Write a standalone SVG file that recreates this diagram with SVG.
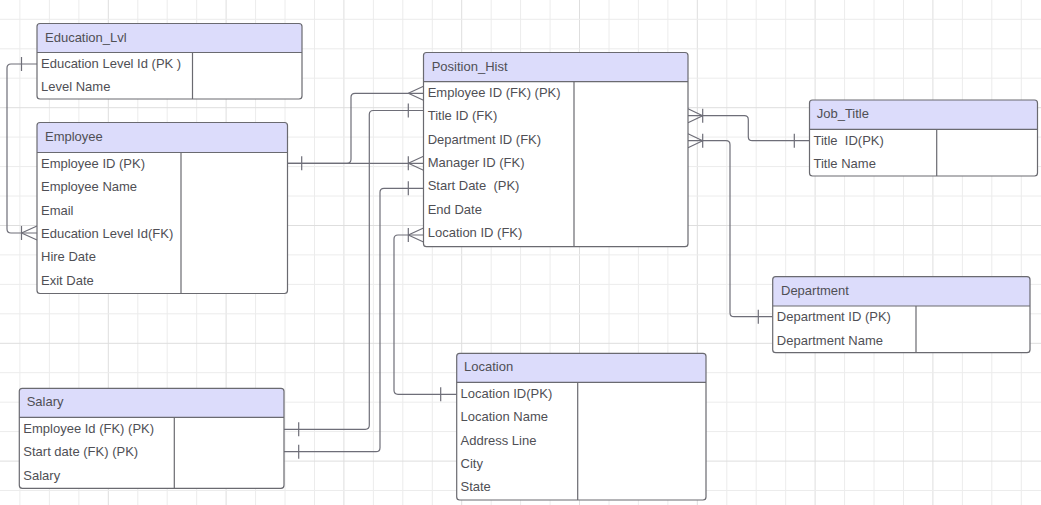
<svg xmlns="http://www.w3.org/2000/svg" width="1041" height="505" viewBox="0 0 1041 505">
<style>
.g{stroke:#ececec;stroke-width:1}
.gm{stroke:#dedede;stroke-width:1}
.box{fill:#ffffff;stroke:none}
.hd{fill:#dcdcfb;stroke:none}
.ol{fill:none;stroke:#6a6a70;stroke-width:1.2}
.sep{stroke:#6a6a70;stroke-width:1.2}
.t{font-family:"Liberation Sans",Arial,sans-serif;font-size:13px;fill:#4f4f55;white-space:pre}
.c{fill:none;stroke:#6e6e78;stroke-width:1.2}
</style>
<rect x="0" y="0" width="1041" height="505" fill="#ffffff"/>
<g id="grid">
<line class="g" x1="19.9" y1="0" x2="19.9" y2="505"/><line class="g" x1="49.4" y1="0" x2="49.4" y2="505"/><line class="g" x1="78.9" y1="0" x2="78.9" y2="505"/><line class="gm" x1="108.3" y1="0" x2="108.3" y2="505"/>
<line class="g" x1="137.8" y1="0" x2="137.8" y2="505"/><line class="g" x1="167.2" y1="0" x2="167.2" y2="505"/><line class="g" x1="196.7" y1="0" x2="196.7" y2="505"/><line class="gm" x1="226.1" y1="0" x2="226.1" y2="505"/>
<line class="g" x1="255.6" y1="0" x2="255.6" y2="505"/><line class="g" x1="285" y1="0" x2="285" y2="505"/><line class="g" x1="314.5" y1="0" x2="314.5" y2="505"/><line class="gm" x1="343.9" y1="0" x2="343.9" y2="505"/>
<line class="g" x1="373.4" y1="0" x2="373.4" y2="505"/><line class="g" x1="402.8" y1="0" x2="402.8" y2="505"/><line class="g" x1="432.3" y1="0" x2="432.3" y2="505"/><line class="gm" x1="461.7" y1="0" x2="461.7" y2="505"/>
<line class="g" x1="491.2" y1="0" x2="491.2" y2="505"/><line class="g" x1="520.6" y1="0" x2="520.6" y2="505"/><line class="g" x1="550.1" y1="0" x2="550.1" y2="505"/><line class="gm" x1="579.5" y1="0" x2="579.5" y2="505"/>
<line class="g" x1="609" y1="0" x2="609" y2="505"/><line class="g" x1="638.4" y1="0" x2="638.4" y2="505"/><line class="g" x1="667.9" y1="0" x2="667.9" y2="505"/><line class="gm" x1="697.3" y1="0" x2="697.3" y2="505"/>
<line class="g" x1="726.8" y1="0" x2="726.8" y2="505"/><line class="g" x1="756.2" y1="0" x2="756.2" y2="505"/><line class="g" x1="785.7" y1="0" x2="785.7" y2="505"/><line class="gm" x1="815.1" y1="0" x2="815.1" y2="505"/>
<line class="g" x1="844.6" y1="0" x2="844.6" y2="505"/><line class="g" x1="874" y1="0" x2="874" y2="505"/><line class="g" x1="903.5" y1="0" x2="903.5" y2="505"/><line class="gm" x1="932.9" y1="0" x2="932.9" y2="505"/>
<line class="g" x1="962.4" y1="0" x2="962.4" y2="505"/><line class="g" x1="991.8" y1="0" x2="991.8" y2="505"/><line class="g" x1="1021.3" y1="0" x2="1021.3" y2="505"/>
<line class="g" x1="0" y1="19.3" x2="1041" y2="19.3"/><line class="g" x1="0" y1="48.8" x2="1041" y2="48.8"/><line class="g" x1="0" y1="78.2" x2="1041" y2="78.2"/><line class="gm" x1="0" y1="107.7" x2="1041" y2="107.7"/>
<line class="g" x1="0" y1="137.1" x2="1041" y2="137.1"/><line class="g" x1="0" y1="166.6" x2="1041" y2="166.6"/><line class="g" x1="0" y1="196" x2="1041" y2="196"/><line class="gm" x1="0" y1="225.5" x2="1041" y2="225.5"/>
<line class="g" x1="0" y1="254.9" x2="1041" y2="254.9"/><line class="g" x1="0" y1="284.4" x2="1041" y2="284.4"/><line class="g" x1="0" y1="313.8" x2="1041" y2="313.8"/><line class="gm" x1="0" y1="343.3" x2="1041" y2="343.3"/>
<line class="g" x1="0" y1="372.7" x2="1041" y2="372.7"/><line class="g" x1="0" y1="402.2" x2="1041" y2="402.2"/><line class="g" x1="0" y1="431.6" x2="1041" y2="431.6"/><line class="gm" x1="0" y1="461.1" x2="1041" y2="461.1"/>
<line class="g" x1="0" y1="490.5" x2="1041" y2="490.5"/>
</g>
<g id="connectors">
<path class="c" d="M37,64 H11 Q7,64 7,68 V229 Q7,233 11,233 H37"/>
<path class="c" d="M21.5,57 V71 M21.5,226 V240 M21.5,233 L37,226 M21.5,233 L37,240"/>
<path class="c" d="M287.5,163.3 H347 Q351,163.3 351,159.3 V97.3 Q351,93.3 355,93.3 H423.5"/>
<path class="c" d="M408.3,93.3 L423.5,86.3 M408.3,93.3 L423.5,100.3"/>
<path class="c" d="M287.5,163.3 H423.5"/>
<path class="c" d="M301.7,156.3 V170.3 M408.3,156.3 V170.3 M408.3,163.3 L423.5,156.3 M408.3,163.3 L423.5,170.3"/>
<path class="c" d="M284,429.3 H365.3 Q369.3,429.3 369.3,425.3 V114.5 Q369.3,110.5 373.3,110.5 H423.5"/>
<path class="c" d="M298.7,422.3 V436.3 M408.3,103.5 V117.5"/>
<path class="c" d="M284,451.7 H376 Q380,451.7 380,447.7 V192.3 Q380,188.3 384,188.3 H423.5"/>
<path class="c" d="M298.7,444.7 V458.7 M408.3,181.3 V195.3"/>
<path class="c" d="M423.5,235 H398 Q394,235 394,239 V390.3 Q394,394.3 398,394.3 H456.7"/>
<path class="c" d="M408.3,228 V242 M408.3,235 L423.5,228 M408.3,235 L423.5,242 M440.7,387.3 V401.3"/>
<path class="c" d="M688,115.7 H744.3 Q748.3,115.7 748.3,119.7 V136.7 Q748.3,140.7 752.3,140.7 H809.5"/>
<path class="c" d="M702.7,108.7 V122.7 M702.7,115.7 L688,108.7 M702.7,115.7 L688,122.7 M794.3,133.7 V147.7"/>
<path class="c" d="M688,140.7 H726 Q730,140.7 730,144.7 V312.7 Q730,316.7 734,316.7 H772.7"/>
<path class="c" d="M702.7,133.7 V147.7 M702.7,140.7 L688,133.7 M702.7,140.7 L688,147.7 M758.3,309.7 V323.7"/>
</g>
<g id="education_lvl">
<rect class="box" x="37" y="23.5" width="265" height="75.5" rx="3"/>
<path class="hd" d="M37,52.5 V26.5 Q37,23.5 40,23.5 H299 Q302,23.5 302,26.5 V52.5 Z"/>
<rect class="ol" x="37" y="23.5" width="265" height="75.5" rx="3"/>
<line class="sep" x1="37" y1="52.5" x2="302" y2="52.5"/>
<line class="sep" x1="192.5" y1="52.5" x2="192.5" y2="99"/>
<text class="t" x="45" y="41.5">Education_Lvl</text>
<text class="t" x="41" y="68">Education Level Id (PK )</text>
<text class="t" x="41" y="91">Level Name</text>
</g>
<g id="employee">
<rect class="box" x="37" y="122.5" width="250.5" height="171" rx="3"/>
<path class="hd" d="M37,152.5 V125.5 Q37,122.5 40,122.5 H284.5 Q287.5,122.5 287.5,125.5 V152.5 Z"/>
<rect class="ol" x="37" y="122.5" width="250.5" height="171" rx="3"/>
<line class="sep" x1="37" y1="152.5" x2="287.5" y2="152.5"/>
<line class="sep" x1="181" y1="152.5" x2="181" y2="293.5"/>
<text class="t" x="45" y="141">Employee</text>
<text class="t" x="41" y="168">Employee ID (PK)</text>
<text class="t" x="41" y="191.3">Employee Name</text>
<text class="t" x="41" y="214.6">Email</text>
<text class="t" x="41" y="238">Education Level Id(FK)</text>
<text class="t" x="41" y="261.3">Hire Date</text>
<text class="t" x="41" y="284.6">Exit Date</text>
</g>
<g id="position_hist">
<rect class="box" x="423.5" y="52.5" width="264.5" height="194.2" rx="3"/>
<path class="hd" d="M423.5,81.7 V55.5 Q423.5,52.5 426.5,52.5 H685 Q688,52.5 688,55.5 V81.7 Z"/>
<rect class="ol" x="423.5" y="52.5" width="264.5" height="194.2" rx="3"/>
<line class="sep" x1="423.5" y1="81.7" x2="688" y2="81.7"/>
<line class="sep" x1="574" y1="81.7" x2="574" y2="246.7"/>
<text class="t" x="431.7" y="70.5">Position_Hist</text>
<text class="t" x="427.7" y="97">Employee ID (FK) (PK)</text>
<text class="t" x="427.7" y="120.3">Title ID (FK)</text>
<text class="t" x="427.7" y="143.6">Department ID (FK)</text>
<text class="t" x="427.7" y="167">Manager ID (FK)</text>
<text class="t" x="427.7" y="190.4" xml:space="preserve">Start Date  (PK)</text>
<text class="t" x="427.7" y="213.8">End Date</text>
<text class="t" x="427.7" y="237.4">Location ID (FK)</text>
</g>
<g id="job_title">
<rect class="box" x="809.5" y="100" width="228" height="76" rx="3"/>
<path class="hd" d="M809.5,129.3 V103 Q809.5,100 812.5,100 H1034.5 Q1037.5,100 1037.5,103 V129.3 Z"/>
<rect class="ol" x="809.5" y="100" width="228" height="76" rx="3"/>
<line class="sep" x1="809.5" y1="129.3" x2="1037.5" y2="129.3"/>
<line class="sep" x1="936.7" y1="129.3" x2="936.7" y2="176"/>
<text class="t" x="816.7" y="118">Job_Title</text>
<text class="t" x="813.5" y="144.5" xml:space="preserve">Title  ID(PK)</text>
<text class="t" x="813.5" y="167.8">Title Name</text>
</g>
<g id="department">
<rect class="box" x="772.7" y="276.7" width="257.3" height="76" rx="3"/>
<path class="hd" d="M772.7,306 V279.7 Q772.7,276.7 775.7,276.7 H1027 Q1030,276.7 1030,279.7 V306 Z"/>
<rect class="ol" x="772.7" y="276.7" width="257.3" height="76" rx="3"/>
<line class="sep" x1="772.7" y1="306" x2="1030" y2="306"/>
<line class="sep" x1="916" y1="306" x2="916" y2="352.7"/>
<text class="t" x="781" y="294.5">Department</text>
<text class="t" x="776.8" y="321.2">Department ID (PK)</text>
<text class="t" x="776.8" y="344.5">Department Name</text>
</g>
<g id="salary">
<rect class="box" x="19.3" y="388.3" width="264.7" height="100" rx="3"/>
<path class="hd" d="M19.3,417.3 V391.3 Q19.3,388.3 22.3,388.3 H281 Q284,388.3 284,391.3 V417.3 Z"/>
<rect class="ol" x="19.3" y="388.3" width="264.7" height="100" rx="3"/>
<line class="sep" x1="19.3" y1="417.3" x2="284" y2="417.3"/>
<line class="sep" x1="174.3" y1="417.3" x2="174.3" y2="488.3"/>
<text class="t" x="26.7" y="406.2">Salary</text>
<text class="t" x="23.3" y="433">Employee Id (FK) (PK)</text>
<text class="t" x="23.3" y="456.3">Start date (FK) (PK)</text>
<text class="t" x="23.3" y="479.6">Salary</text>
</g>
<g id="location">
<rect class="box" x="456.7" y="353.3" width="249.3" height="146.7" rx="3"/>
<path class="hd" d="M456.7,382.3 V356.3 Q456.7,353.3 459.7,353.3 H703 Q706,353.3 706,356.3 V382.3 Z"/>
<rect class="ol" x="456.7" y="353.3" width="249.3" height="146.7" rx="3"/>
<line class="sep" x1="456.7" y1="382.3" x2="706" y2="382.3"/>
<line class="sep" x1="577.7" y1="382.3" x2="577.7" y2="500"/>
<text class="t" x="464" y="371.2">Location</text>
<text class="t" x="460.5" y="398">Location ID(PK)</text>
<text class="t" x="460.5" y="421.3">Location Name</text>
<text class="t" x="460.5" y="444.6">Address Line</text>
<text class="t" x="460.5" y="468">City</text>
<text class="t" x="460.5" y="491.4">State</text>
</g>
</svg>
